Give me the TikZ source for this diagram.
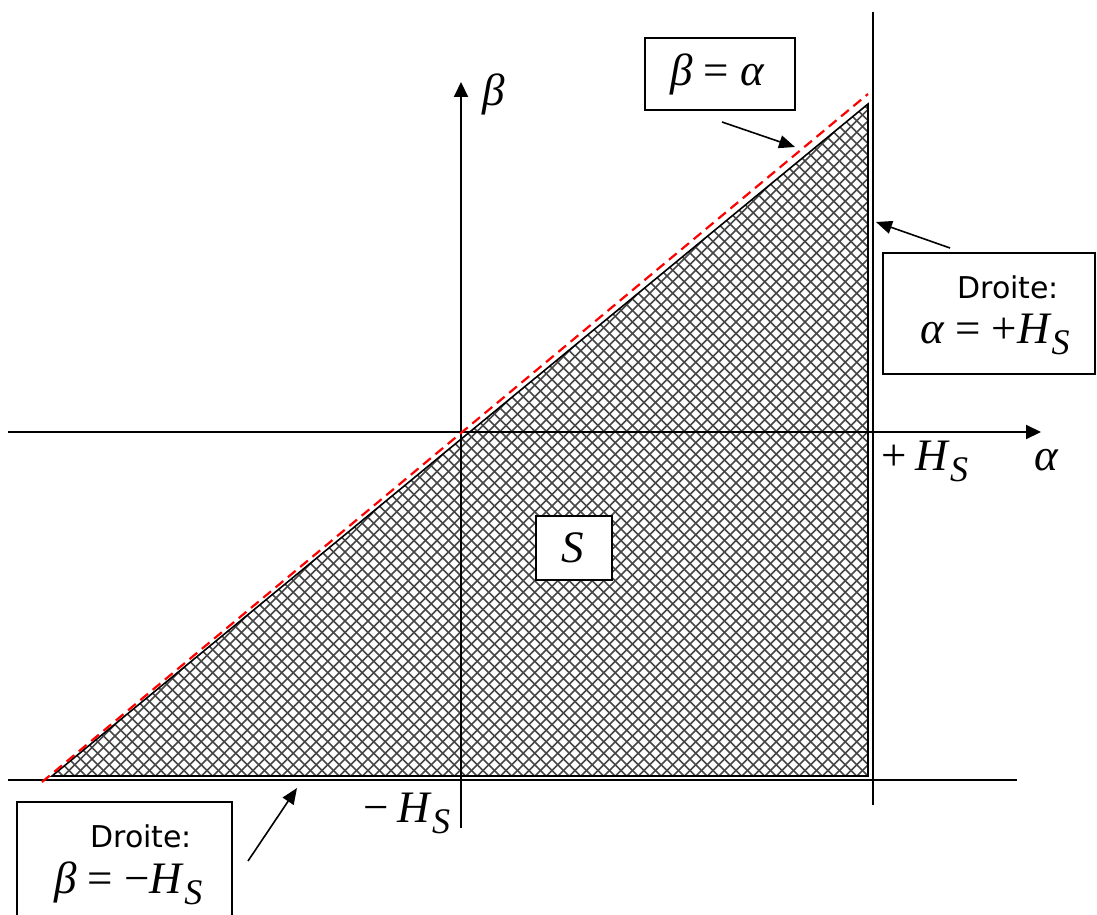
\documentclass[tikz,border=0pt]{standalone}
\usepackage{fontspec}
\setmainfont{Liberation Serif}
\newfontfamily\tmr{Liberation Serif}
\newfontfamily\sansdv{DejaVu Sans}
\usetikzlibrary{arrows.meta}
\newcommand{\Hsub}{\textit{H}\raisebox{-11pt}{\fontsize{36}{36}\selectfont\textit{S}}}
\newcommand{\eqsp}{\hspace{0.25em}}
\begin{document}
\begin{tikzpicture}[x=1pt,y=-1pt,
  hatch/.style={line width=1.5pt,draw=black!72},
  tri/.style={line width=1.6pt,draw=black},
  axis/.style={line width=2pt,draw=black,-{Triangle[length=15pt,width=14pt]}},
  bound/.style={line width=2pt,draw=black},
  reddash/.style={line width=2.2pt,draw=red,dash pattern=on 10pt off 6pt},
  note/.style={line width=1.6pt,draw=black,-{Triangle[length=16pt,width=13pt]}},
  box/.style={draw=black,line width=1.5pt,fill=white,inner sep=0pt},
  math/.style={font=\tmr\fontsize{45}{47}\selectfont,inner sep=0pt},
  sans/.style={font=\sansdv\fontsize{30}{32}\selectfont,inner sep=0pt}]
\useasboundingbox (0,0) rectangle (1097,915);
\coordinate (A) at (52,776);
\coordinate (B) at (868,776);
\coordinate (C) at (868,104);
\begin{scope}
  \clip (A) -- (B) -- (C) -- cycle;
  \foreach \k in {0,...,150} {\draw[hatch] (11.5*\k,0) -- ++(-1000,1000);}
  \foreach \k in {-70,...,80} {\draw[hatch] (11.5*\k,0) -- ++(1000,1000);}
\end{scope}
\draw[tri] (A) -- (B) -- (C) -- cycle;
% axes
\coordinate (xs) at (8,432);
\coordinate (xe) at (1041,432);
\coordinate (ys) at (461,828);
\coordinate (ye) at (461,82);
\draw[axis] (xs) -- (xe);
\draw[axis] (ys) -- (ye);
% boundary lines
\coordinate (v1) at (873,12);
\coordinate (v2) at (873,805);
\coordinate (h1) at (8,780);
\coordinate (h2) at (1017,780);
\draw[bound] (v1) -- (v2);
\draw[bound] (h1) -- (h2);
% red dashed line beta = alpha
\coordinate (r1) at (42,782);
\coordinate (r2) at (868,94);
\draw[reddash] (r1) -- (r2);
% axis labels
\node[math,anchor=base west] (betalab) at (482,106) {\itshape β};
\node[math,anchor=base west] (alphalab) at (1034,470) {\itshape α};
\node[math,anchor=base west] (plusH) at (881,470) {+\hspace{0.2em}\Hsub};
\node[math,anchor=base west] (minusH) at (363,822) {−\hspace{0.2em}\Hsub};
% S box
\node[box,minimum width=76pt,minimum height=64pt] (Sbox) at (574,548) {};
\node[math,anchor=base] (Slab) at (573,562) {\itshape S};
% beta = alpha box
\node[box,minimum width=150pt,minimum height=72pt] (eqbox) at (720,74) {};
\node[math,anchor=base west] (eqtxt) at (670,86) {\itshape β\eqsp\upshape=\eqsp\itshape α};
\coordinate (eqfrom) at (722,122);
\coordinate (eqto) at (795,147);
\draw[note] (eqfrom) -- (eqto);
% right box
\node[box,minimum width=212pt,minimum height=121pt] (rbox) at (989,313.5) {};
\node[sans,anchor=base west] (rdroite) at (957,298) {Droite:};
\node[math,anchor=base west] (rmath) at (920,343) {\itshape α\eqsp\upshape=\eqsp+\Hsub};
\coordinate (rfrom) at (950,248);
\coordinate (rto) at (876,222);
\draw[note] (rfrom) -- (rto);
% bottom-left box
\node[box,minimum width=215pt,minimum height=120pt] (lbox) at (124.5,862) {};
\node[sans,anchor=base west] (ldroite) at (90,847) {Droite:};
\node[math,anchor=base west] (lmath) at (54,893) {\itshape β\eqsp\upshape=\eqsp−\Hsub};
\coordinate (lfrom) at (248,861);
\coordinate (lto) at (297,788);
\draw[note] (lfrom) -- (lto);
\end{tikzpicture}
\end{document}
